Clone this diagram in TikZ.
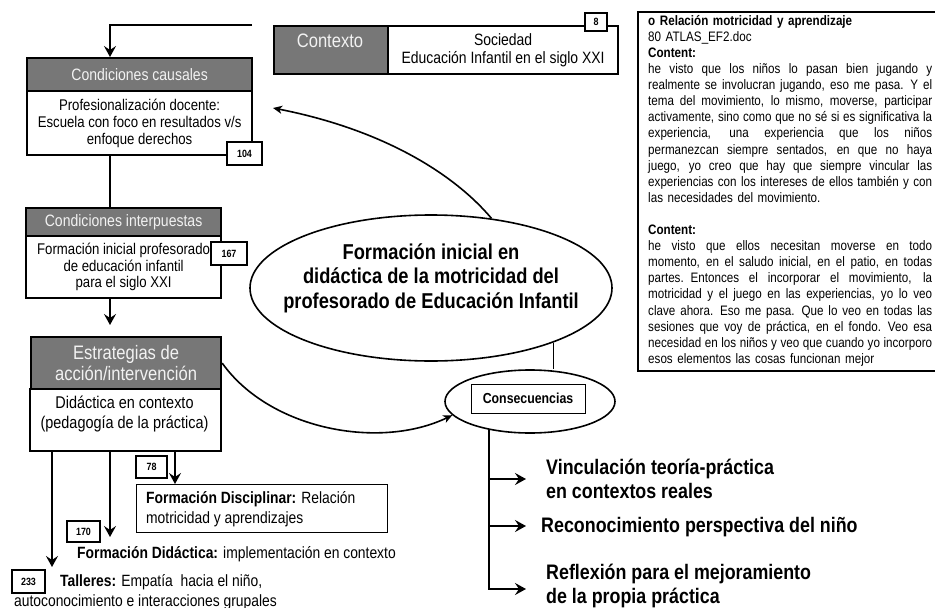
\documentclass[tikz,border=0pt]{standalone}
\usepackage{fontspec}
\setmainfont[FakeStretch=0.85]{Liberation Sans}
\usetikzlibrary{arrows.meta,shapes.geometric}
\definecolor{hdrgray}{HTML}{777777}
\definecolor{hdrtext}{HTML}{F2F2F2}
\newcommand{\jline}[1]{\hbox to 284pt{\spaceskip=\fontdimen2\font plus 1fil\relax #1}}
\newcommand{\rline}[1]{\hbox to 284pt{#1\hfil}}
\begin{document}
\begin{tikzpicture}[x=1pt,y=-1pt,
  hdr/.style={draw=black, line width=2.2pt, fill=hdrgray, text=hdrtext, inner sep=0pt, anchor=north west, align=center},
  bodybox/.style={draw=black, line width=2.2pt, fill=white, inner sep=0pt, anchor=north west, align=center},
  tagbox/.style={draw=black, line width=1.6pt, fill=white, inner sep=0pt, font=\bfseries\fontsize{10.5}{12}\selectfont},
  conn/.style={line width=2pt},
  arr/.style={line width=2pt, -{Stealth[length=11pt,width=12pt,inset=4pt]}},
  thinarr/.style={line width=1.6pt, -{Stealth[length=9pt,width=8pt,inset=2.5pt]}},
  plain/.style={inner sep=0pt, anchor=west, align=left}
  ]
\useasboundingbox (0,0) rectangle (935,608);

% Contexto
\node[hdr, minimum width=114pt, minimum height=48pt] (ctxh) at (273,25) {};
\node[text=hdrtext, inner sep=0pt, font=\fontsize{19.5}{21}\selectfont] (ctxt) at (330,41) {Contexto};
\node[bodybox, minimum width=230pt, minimum height=48pt, font=\fontsize{16.4}{18}\selectfont] (ctxb) at (387,25) {Sociedad\\Educación Infantil en el siglo XXI};
\node[tagbox, minimum width=22pt, minimum height=18pt] (t8) at (596,22) {8};

% Condiciones causales
\node[hdr, minimum width=225pt, minimum height=33pt, font=\fontsize{16.5}{18}\selectfont] (h1) at (26,57) {Condiciones causales};
\node[bodybox, minimum width=225pt, minimum height=64pt, font=\fontsize{15.5}{17}\selectfont] (b1) at (26,90) {Profesionalización docente:\\Escuela con foco en resultados v/s\\enfoque derechos};
\node[tagbox, minimum width=35pt, minimum height=23pt] (t104) at (244.5,153.5) {104};

% Condiciones interpuestas
\node[hdr, minimum width=195pt, minimum height=28pt, font=\fontsize{16.5}{18}\selectfont] (h2) at (25,207) {Condiciones interpuestas};
\node[bodybox, minimum width=195pt, minimum height=62pt, font=\fontsize{15.5}{16.7}\selectfont] (b2) at (25,235) {Formación inicial profesorado\\de educación infantil\\para el siglo XXI};
\node[tagbox, minimum width=36pt, minimum height=23pt] (t167) at (229,253.5) {167};

% Estrategias
\node[hdr, minimum width=190pt, minimum height=52pt, font=\fontsize{19.5}{21}\selectfont] (h3) at (30,336) {Estrategias de\\acción/intervención};
\node[bodybox, minimum width=191pt, minimum height=62pt] (b3) at (29,388) {};
\node[inner sep=0pt, align=center, font=\fontsize{17}{20}\selectfont] (b3t) at (124.5,414) {Didáctica en contexto\\(pedagogía de la práctica)};

% Lower left items
\node[draw, line width=0.9pt, anchor=north west, minimum width=251pt, minimum height=48pt, inner sep=0pt] (disc) at (136,484) {};
\node[plain, font=\fontsize{16.3}{19.5}\selectfont] (disct) at (146,509) {\textbf{Formación Disciplinar:} Relación\\motricidad y aprendizajes};
\node[tagbox, minimum width=31pt, minimum height=22pt] (t78) at (151.5,467) {78};
\node[tagbox, minimum width=33pt, minimum height=21pt] (t170) at (83.5,531.5) {170};
\node[tagbox, minimum width=33pt, minimum height=23pt] (t233) at (28.5,581.5) {233};
\node[plain, font=\fontsize{16.3}{19}\selectfont] (didt) at (77,554) {\textbf{Formación Didáctica:} implementación en contexto};
\node[plain, font=\fontsize{16.3}{19}\selectfont] (tall1) at (60,582) {\textbf{Talleres:} Empatía\ \ hacia el niño,};
\node[plain, font=\fontsize{16.3}{19}\selectfont] (tall2) at (14,602) {autoconocimiento e interacciones grupales};

% Central ellipse
\node[ellipse, draw, line width=1.6pt, fill=white, minimum width=362pt, minimum height=146pt, inner sep=0pt] (main) at (431,288) {};
\node[inner sep=0pt, align=center, font=\bfseries\fontsize{21.5}{24.5}\selectfont] (maintxt) at (431,278) {Formación inicial en\\didáctica de la motricidad del\\profesorado de Educación Infantil};

% Consecuencias
\node[ellipse, draw, line width=1.6pt, minimum width=170pt, minimum height=63pt, inner sep=0pt] (cons) at (530,401.5) {};
\node[draw, line width=0.8pt, minimum width=114pt, minimum height=29pt, inner sep=0pt, font=\bfseries\fontsize{14.5}{16}\selectfont] (consb) at (528,398.5) {Consecuencias};

% Consequence texts
\node[plain, font=\bfseries\fontsize{21}{24.5}\selectfont] (c1) at (546,479) {Vinculación teoría-práctica\\en contextos reales};
\node[plain, font=\bfseries\fontsize{21}{24.5}\selectfont] (c2) at (541,527) {Reconocimiento perspectiva del niño};
\node[plain, font=\bfseries\fontsize{21}{24.5}\selectfont] (c3) at (546,586) {Reflexión para el mejoramiento\\de la propia práctica};

% Quote box
\node[draw, line width=1.8pt, anchor=north west, minimum width=310pt, minimum height=359pt, inner sep=0pt] (qbox) at (637,11) {};
\node[anchor=north west, inner sep=0pt, text width=284pt, font=\fontsize{13.7}{16.1}\selectfont] (qtxt) at (648,15) {%
\rline{\textbf{o Relación motricidad y aprendizaje}}
\rline{80 ATLAS\_EF2.doc}
\rline{\textbf{Content:}}
\jline{he visto que los niños lo pasan bien jugando y}
\jline{realmente se involucran jugando, eso me pasa. Y el}
\jline{tema del movimiento, lo mismo, moverse, participar}
\jline{activamente, sino como que no sé si es significativa la}
\jline{experiencia, una experiencia que los niños}
\jline{permanezcan siempre sentados, en que no haya}
\jline{juego, yo creo que hay que siempre vincular las}
\jline{experiencias con los intereses de ellos también y con}
\rline{las necesidades del movimiento.}
\vskip 16.1pt
\rline{\textbf{Content:}}
\jline{he visto que ellos necesitan moverse en todo}
\jline{momento, en el saludo inicial, en el patio, en todas}
\jline{partes. Entonces el incorporar el movimiento, la}
\jline{motricidad y el juego en las experiencias, yo lo veo}
\jline{clave ahora. Eso me pasa. Que lo veo en todas las}
\jline{sesiones que voy de práctica, en el fondo. Veo esa}
\jline{necesidad en los niños y veo que cuando yo incorporo}
\rline{esos elementos las cosas funcionan mejor}};

% Connectors
\coordinate (topstart) at (252,25);
\coordinate (vx) at (110,0);
\draw[arr] (topstart) -| (h1.north -| vx);
\draw[conn] (b1.south -| vx) -- (h2.north -| vx);
\coordinate (a2end) at (110,325);
\draw[arr] (b2.south -| vx) -- (a2end);

\coordinate (tipA) at (273,108);
\draw[thinarr] (main.49) .. controls (455,175) and (385,130) .. (tipA);
\draw[thinarr] (h3.east) .. controls (270,430) and (380,450) .. (cons.190);
\draw[line width=1.6pt] (main.-24) -- (main.-24 |- cons.north);

\coordinate (e1) at (52,567);
\coordinate (e2) at (110,537);
\coordinate (e3x) at (175,0);
\draw[arr] (b3.south -| e1) -- (e1);
\draw[arr] (b3.south -| e2) -- (e2);
\draw[arr] (b3.south -| e3x) -- (disc.north -| e3x);

\coordinate (br1) at (490,479);
\coordinate (br2) at (490,526);
\coordinate (br1e) at (526,479);
\coordinate (br2e) at (526,526);
\coordinate (br3e) at (526,589);
\draw[arr] (cons.215) |- (br3e);
\draw[arr] (br1) -- (br1e);
\draw[arr] (br2) -- (br2e);
\end{tikzpicture}
\end{document}
